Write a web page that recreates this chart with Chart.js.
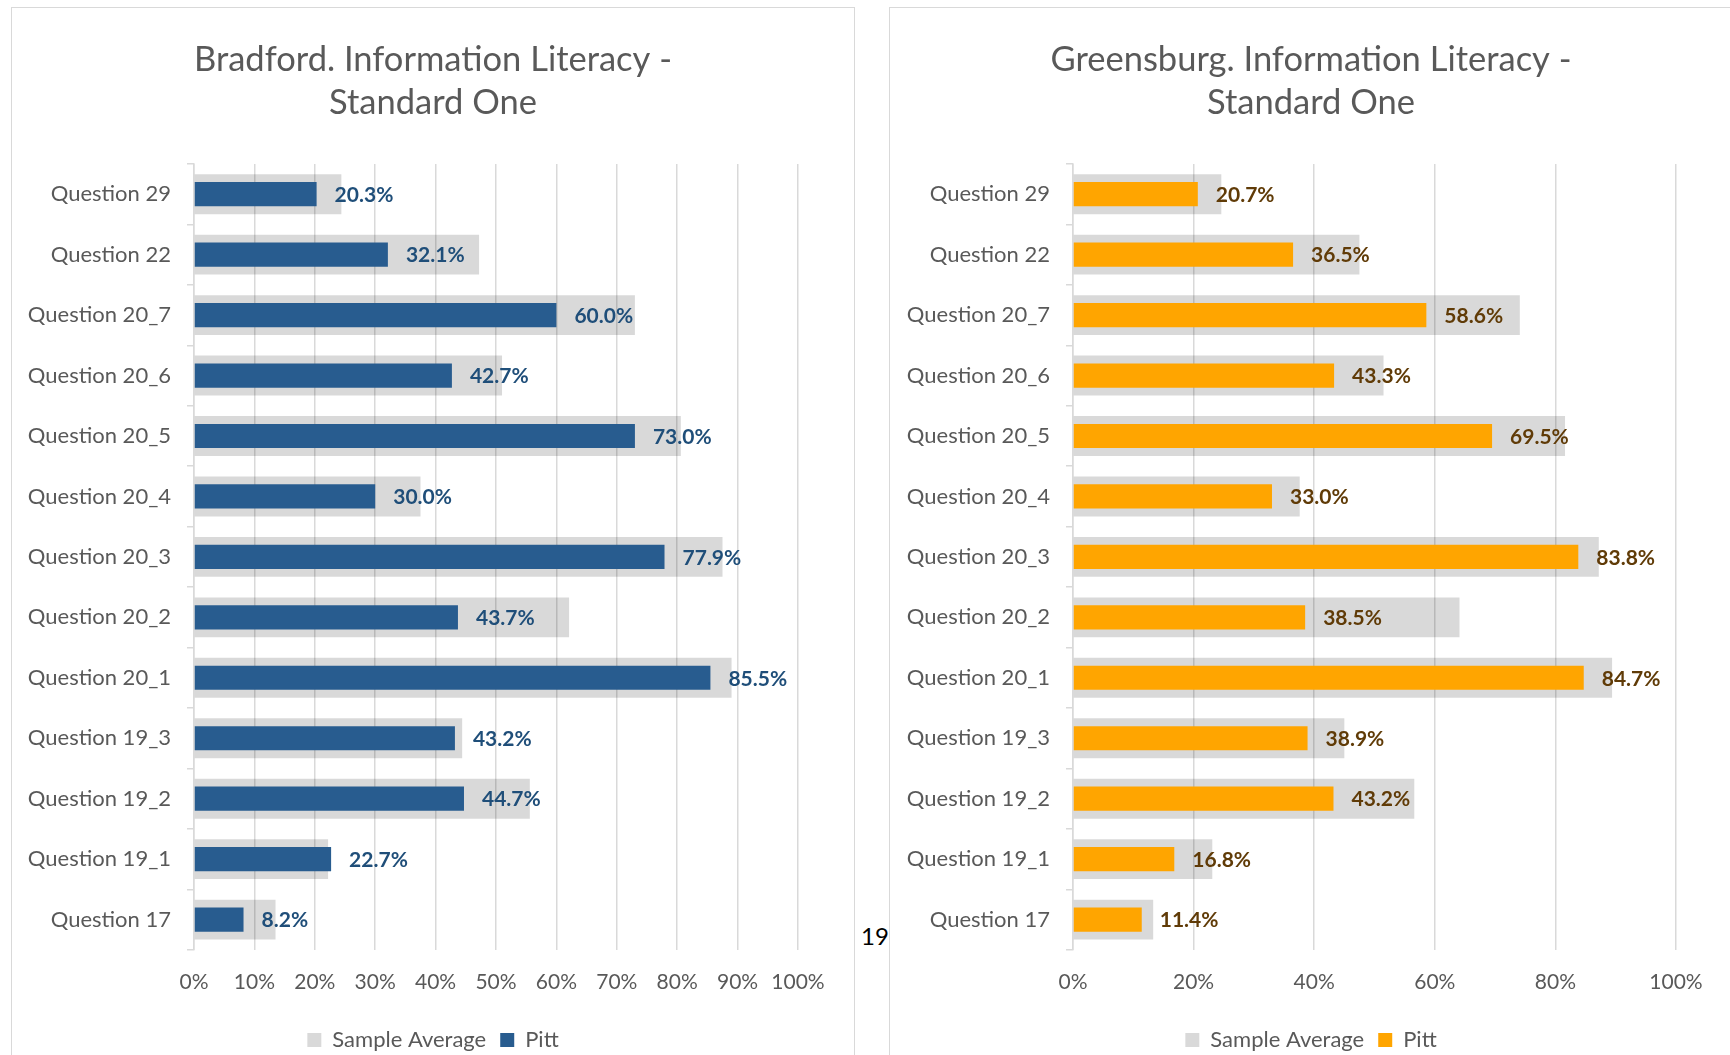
<!DOCTYPE html>
<html>
<head>
<meta charset="utf-8">
<script src="https://cdn.jsdelivr.net/npm/chart.js@4.4.0/dist/chart.umd.min.js"></script>
<style>
body{margin:0;background:#fff;overflow:hidden;width:1730px;height:1055px;position:relative;font-family:Lato,sans-serif}
.panel{position:absolute;top:7px;width:844px;height:1070px;border:1.5px solid #d9d9d9;box-sizing:border-box}
canvas{position:absolute;top:7px}
#pageNum{position:absolute;left:861px;top:924px;font-size:24px;line-height:24px;color:#000}
</style>
</head>
<body>
<div class="panel" style="left:11px"></div>
<div class="panel" style="left:889px"></div>
<canvas id="chartBradford" width="844" height="1054" style="left:11px"></canvas>
<canvas id="chartGreensburg" width="844" height="1054" style="left:889px"></canvas>
<div id="pageNum">19</div>
<script>
// questions, top to bottom
const questions = ['Question 29', 'Question 22', 'Question 20_7', 'Question 20_6', 'Question 20_5',
    'Question 20_4', 'Question 20_3', 'Question 20_2', 'Question 20_1', 'Question 19_3',
    'Question 19_2', 'Question 19_1', 'Question 17'];

// Bradford
const bradfordPitt = [20.3, 32.1, 60.0, 42.7, 73.0, 30.0, 77.9, 43.7, 85.5, 43.2, 44.7, 22.7, 8.2];
const bradfordAvg = [24.4, 47.2, 73.0, 51.0, 80.6, 37.5, 87.5, 62.1, 89.0, 44.4, 55.6, 22.2, 13.5];

// Greensburg
const greensburgPitt = [20.7, 36.5, 58.6, 43.3, 69.5, 33.0, 83.8, 38.5, 84.7, 38.9, 43.2, 16.8, 11.4];
const greensburgAvg = [24.6, 47.5, 74.1, 51.5, 81.6, 37.6, 87.2, 64.1, 89.4, 45.0, 56.6, 23.1, 13.3];

const bradfordTicks = 10;
const greensburgTicks = 20;

const greyText = '#595959';
const gridGrey = '#d9d9d9';

// labels at the end of the Pitt bars (no datalabels plugin offline)
const valueLabels = {
    id: 'valueLabels',
    afterDatasetsDraw(chart, args, opts) {
        let ctx = chart.ctx;
        let meta = chart.getDatasetMeta(0);
        let data = chart.data.datasets[0].data;
        ctx.save();
        ctx.font = 'bold 21px Lato';
        ctx.fillStyle = opts.color;
        ctx.textAlign = 'left';
        ctx.textBaseline = 'middle';
        meta.data.forEach(function (bar, i) {
            ctx.fillText(data[i].toFixed(1) + '%', bar.x + 18, bar.y + 1);
        });
        ctx.restore();
    }
};

function makeChart(id, title, pitt, avg, barColor, labelColor, step, leftWidth) {
    let ctx = document.getElementById(id).getContext('2d');
    return new Chart(ctx, {
        type: 'bar',
        data: {
            labels: questions,
            datasets: [
                {label: 'Pitt', data: pitt, backgroundColor: barColor, borderWidth: 0,
                    barPercentage: 0.40, categoryPercentage: 1, grouped: false},
                {label: 'Sample Average', data: avg, backgroundColor: 'rgba(0,0,0,0.15)', borderWidth: 0,
                    barPercentage: 0.66, categoryPercentage: 1, grouped: false}
            ]
        },
        options: {
            indexAxis: 'y',
            responsive: false,
            animation: false,
            layout: {padding: 0},
            scales: {
                x: {
                    min: 0, max: 100,
                    ticks: {stepSize: step, padding: 20, color: greyText, font: {family: 'Lato', size: 21},
                        callback: function (v) { return v + '%'; }},
                    grid: {color: gridGrey, lineWidth: 1.5, drawTicks: false},
                    border: {display: false}
                },
                y: {
                    afterFit: function (scale) { scale.width = leftWidth; },
                    ticks: {padding: 16, color: greyText, font: {family: 'Lato', size: 22}},
                    grid: {offset: true, drawOnChartArea: false, tickLength: 7, color: gridGrey, lineWidth: 1.5},
                    border: {color: gridGrey, width: 1.5}
                },
                // empty right-hand axis: only reserves space so title/legend stay centred on the panel
                yRight: {
                    type: 'linear', axis: 'y', position: 'right',
                    ticks: {display: false}, grid: {display: false}, border: {display: false},
                    afterFit: function (scale) { scale.width = 57; }
                }
            },
            plugins: {
                title: {
                    display: true, text: title, color: greyText,
                    font: {family: 'Lato', size: 34.5, weight: 'normal', lineHeight: 1.246},
                    padding: {top: 31, bottom: 40}
                },
                legend: {
                    position: 'bottom', reverse: true,
                    labels: {boxWidth: 14, boxHeight: 14, padding: 14, color: greyText,
                        font: {family: 'Lato', size: 22}}
                },
                tooltip: {enabled: false},
                valueLabels: {color: labelColor}
            }
        },
        plugins: [valueLabels]
    });
}

makeChart('chartBradford', ['Bradford. Information Literacy -', 'Standard One'],
    bradfordPitt, bradfordAvg, '#285c8f', '#1f4e79', bradfordTicks, 183);
makeChart('chartGreensburg', ['Greensburg. Information Literacy -', 'Standard One'],
    greensburgPitt, greensburgAvg, '#ffa500', '#603b07', greensburgTicks, 184);
</script>
</body>
</html>
